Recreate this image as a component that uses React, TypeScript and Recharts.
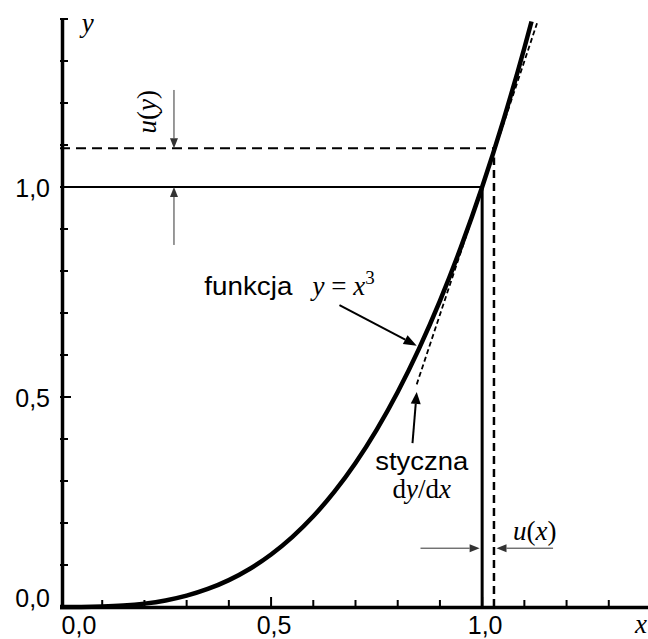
import React from "react";
import {
  LineChart,
  Line,
  XAxis,
  YAxis,
  ReferenceLine,
  ReferenceDot,
} from "recharts";

// y = x^3
const curveX = [0, 0.05, 0.1, 0.15, 0.2, 0.25, 0.3, 0.35, 0.4, 0.45, 0.5, 0.55, 0.6, 0.65, 0.7, 0.75, 0.8, 0.85, 0.9, 0.95, 1.0, 1.05, 1.1, 1.117];
const curveY = [0, 0.0001, 0.001, 0.0034, 0.008, 0.0156, 0.027, 0.0429, 0.064, 0.0911, 0.125, 0.1664, 0.216, 0.2746, 0.343, 0.4219, 0.512, 0.6141, 0.729, 0.8574, 1.0, 1.1576, 1.331, 1.394];

// tangent dy/dx at x = 1
const tangentX = [0.845, 1.13];
const tangentY = [0.53, 1.39];

const xTicks = [0, 0.1, 0.2, 0.3, 0.4, 0.5, 0.6, 0.7, 0.8, 0.9, 1.0, 1.1, 1.2, 1.3];
const yTicks = [0, 0.1, 0.2, 0.3, 0.4, 0.5, 0.6, 0.7, 0.8, 0.9, 1.0, 1.1, 1.2, 1.3, 1.4];
const labelTicks = [0, 0.5, 1.0];
const labelTexts = ["0,0", "0,5", "1,0"];

const X0 = 1.0;
const Y0 = 1.0;
const X1 = 1.028; // x + u(x)
const Y1 = 1.092; // y + u(y)

const SANS = "'Liberation Sans', Arial, sans-serif";
const SERIF = "'Liberation Serif', 'Times New Roman', serif";

const curveData = curveX.map((x, i) => ({ x, y: curveY[i] }));
const tangentData = tangentX.map((x, i) => ({ x, y: tangentY[i] }));

function tickLabel(v: number) {
  const i = labelTicks.findIndex((t) => Math.abs(t - v) < 1e-6);
  return i >= 0 ? labelTexts[i] : null;
}

function XTick(props: any) {
  const { x, y, payload } = props;
  const v = payload.value;
  const lab = tickLabel(v);
  return (
    <g>
      {v > 0 && <line x1={x} x2={x} y1={y} y2={y - (lab ? 10 : 7)} stroke="#000" strokeWidth={2} />}
      {lab && (
        <text x={x + (v === 0 ? 19 : 3)} y={y + 27} textAnchor="middle" fontFamily={SANS} fontSize={25} fill="#000">
          {lab}
        </text>
      )}
    </g>
  );
}

function YTick(props: any) {
  const { x, y, payload } = props;
  const v = payload.value;
  const lab = tickLabel(v);
  return (
    <g>
      {v > 0 && <line x1={x} x2={x + (lab ? 11 : 8)} y1={y} y2={y} stroke="#000" strokeWidth={2} />}
      {lab && (
        <text x={x - 10} y={y + (v === 0 ? 0 : 10)} textAnchor="end" fontFamily={SANS} fontSize={25} fill="#000">
          {lab}
        </text>
      )}
    </g>
  );
}

function Arrow(props: any) {
  const { x1, y1, x2, y2, color = "#000", width = 1, head = 10, half = 4 } = props;
  const dx = x2 - x1;
  const dy = y2 - y1;
  const len = Math.hypot(dx, dy) || 1;
  const ux = dx / len;
  const uy = dy / len;
  const bx = x2 - ux * head;
  const by = y2 - uy * head;
  const px = -uy * half;
  const py = ux * half;
  return (
    <g>
      <line x1={x1} y1={y1} x2={bx} y2={by} stroke={color} strokeWidth={width} />
      <polygon points={`${x2},${y2} ${bx + px},${by + py} ${bx - px},${by - py}`} fill={color} />
    </g>
  );
}

const arrow = (opts: any) => (p: any) => <Arrow {...p} {...opts} />;

// thick axis spine, nudged so it sits like the original
const spine = (dx: number, dy: number) => (p: any) => (
  <line x1={p.x1 + dx} y1={p.y1 + dy} x2={p.x2 + dx} y2={p.y2 + dy} stroke="#000" strokeWidth={3.5} />
);

export default function App() {
  return (
    <div style={{ position: "absolute", left: 0, top: 0, width: 648, height: 639, overflow: "hidden", background: "#fff" }}>
      <LineChart width={651} height={639} margin={{ top: 19, right: 0, bottom: 0, left: 0 }}>
        <XAxis
          type="number"
          dataKey="x"
          domain={[0, 1.4]}
          ticks={xTicks}
          interval={0}
          tickSize={0}
          tickMargin={0}
          tickLine={false}
          axisLine={false}
          tick={XTick}
          height={32}
        />
        <YAxis
          type="number"
          dataKey="y"
          domain={[0, 1.4]}
          ticks={yTicks}
          interval={0}
          tickSize={0}
          tickMargin={0}
          tickLine={false}
          axisLine={false}
          tick={YTick}
          width={60}
        />

        <ReferenceLine segment={[{ x: 0, y: 0 }, { x: 0, y: 1.4 }]} ifOverflow="visible" shape={spine(2.5, 0)} />
        <ReferenceLine segment={[{ x: 0, y: 0 }, { x: 1.4, y: 0 }]} ifOverflow="visible" shape={spine(0, 0.5)} />

        {/* x, y and the shifted x + u(x), y + u(y) */}
        <ReferenceLine segment={[{ x: 0, y: Y0 }, { x: X0, y: Y0 }]} stroke="#000" strokeWidth={2} ifOverflow="visible" />
        <ReferenceLine segment={[{ x: X0, y: 0 }, { x: X0, y: Y0 }]} stroke="#000" strokeWidth={3} ifOverflow="visible" />
        <ReferenceLine segment={[{ x: 0, y: Y1 }, { x: X1, y: Y1 }]} stroke="#000" strokeWidth={2} strokeDasharray="10 6" ifOverflow="visible" />
        <ReferenceLine segment={[{ x: X1, y: 0 }, { x: X1, y: 1.07 }]} stroke="#000" strokeWidth={2.5} strokeDasharray="8 5" ifOverflow="visible" />

        <Line data={tangentData} dataKey="y" type="linear" stroke="#000" strokeWidth={1.8} strokeDasharray="5 3" dot={false} isAnimationActive={false} />
        <Line data={curveData} dataKey="y" type="monotone" stroke="#000" strokeWidth={4.5} dot={false} isAnimationActive={false} />

        {/* u(y) arrows */}
        <ReferenceLine segment={[{ x: 0.27, y: 1.231 }, { x: 0.27, y: Y1 }]} ifOverflow="visible" shape={arrow({ color: "#333", width: 1, head: 10, half: 4 })} />
        <ReferenceLine segment={[{ x: 0.27, y: 0.862 }, { x: 0.27, y: Y0 }]} ifOverflow="visible" shape={arrow({ color: "#333", width: 1, head: 10, half: 4 })} />
        {/* u(x) arrows */}
        <ReferenceLine segment={[{ x: 0.854, y: 0.14 }, { x: 0.994, y: 0.14 }]} ifOverflow="visible" shape={arrow({ color: "#333", width: 1, head: 10, half: 4 })} />
        <ReferenceLine segment={[{ x: 1.168, y: 0.14 }, { x: 1.034, y: 0.14 }]} ifOverflow="visible" shape={arrow({ color: "#333", width: 1, head: 10, half: 4 })} />
        {/* annotation arrows */}
        <ReferenceLine segment={[{ x: 0.662, y: 0.719 }, { x: 0.845, y: 0.622 }]} ifOverflow="visible" shape={arrow({ color: "#000", width: 2, head: 13, half: 5 })} />
        <ReferenceLine segment={[{ x: 0.835, y: 0.39 }, { x: 0.845, y: 0.512 }]} ifOverflow="visible" shape={arrow({ color: "#000", width: 2, head: 12, half: 5 })} />

        {/* texts */}
        <ReferenceDot x={0.066} y={1.37} r={0} ifOverflow="visible" shape={(p: any) => (
          <text x={p.cx} y={p.cy} textAnchor="middle" fontFamily={SERIF} fontStyle="italic" fontSize={27} fill="#000">y</text>
        )} />
        <ReferenceDot x={1.376} y={-0.062} r={0} ifOverflow="visible" shape={(p: any) => (
          <text x={p.cx} y={p.cy} textAnchor="middle" fontFamily={SERIF} fontStyle="italic" fontSize={27} fill="#000">x</text>
        )} />
        <ReferenceDot x={0.228} y={1.179} r={0} ifOverflow="visible" shape={(p: any) => (
          <text x={p.cx} y={p.cy} transform={`rotate(-90 ${p.cx} ${p.cy})`} textAnchor="middle" fontFamily={SERIF} fontSize={27} fill="#000">
            <tspan fontStyle="italic">u</tspan>(<tspan fontStyle="italic">y</tspan>)
          </text>
        )} />
        <ReferenceDot x={1.073} y={0.16} r={0} ifOverflow="visible" shape={(p: any) => (
          <text x={p.cx} y={p.cy} textAnchor="start" fontFamily={SERIF} fontSize={27} fill="#000">
            <tspan fontStyle="italic">u</tspan>(<tspan fontStyle="italic">x</tspan>)
          </text>
        )} />
        <ReferenceDot x={0.342} y={0.743} r={0} ifOverflow="visible" shape={(p: any) => (
          <text x={p.cx} y={p.cy} textAnchor="start" fontFamily={SANS} fontSize={25} textLength={88} lengthAdjust="spacingAndGlyphs" fill="#000">funkcja</text>
        )} />
        <ReferenceDot x={0.598} y={0.743} r={0} ifOverflow="visible" shape={(p: any) => (
          <text x={p.cx} y={p.cy} textAnchor="start" fontFamily={SERIF} fontSize={27} fill="#000">
            <tspan fontStyle="italic">y</tspan> = <tspan fontStyle="italic">x</tspan>
            <tspan dy={-11} fontSize={19}>3</tspan>
          </text>
        )} />
        <ReferenceDot x={0.857} y={0.326} r={0} ifOverflow="visible" shape={(p: any) => (
          <text x={p.cx} y={p.cy} textAnchor="middle" fontFamily={SANS} fontSize={25} textLength={93} lengthAdjust="spacingAndGlyphs" fill="#000">styczna</text>
        )} />
        <ReferenceDot x={0.857} y={0.26} r={0} ifOverflow="visible" shape={(p: any) => (
          <text x={p.cx} y={p.cy} textAnchor="middle" fontFamily={SERIF} fontSize={27} fill="#000">
            d<tspan fontStyle="italic">y</tspan>/d<tspan fontStyle="italic">x</tspan>
          </text>
        )} />
      </LineChart>
    </div>
  );
}
